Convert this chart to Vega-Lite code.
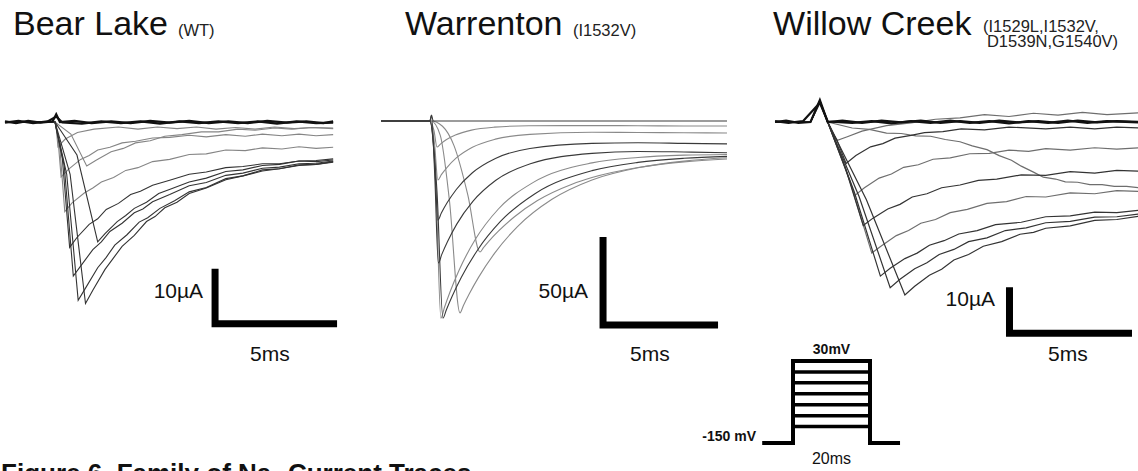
{
"$schema": "https://vega.github.io/schema/vega-lite/v6.json",
"width": 1138, "height": 471,
"autosize": {"type": "none"},
"padding": 0,
"background": "white",
"config": {"view": {"stroke": null}, "axis": {"disable": true}, "legend": {"disable": true}, "font": "Liberation Sans"},
"datasets": {
"bear": [
{"s":"B0a","t":-2.05,"i":0.1},{"s":"B0a","t":-1.6,"i":-0.2},{"s":"B0a","t":-1.1,"i":0.2},{"s":"B0a","t":-0.6,"i":-0.1},{"s":"B0a","t":-0.1,"i":0.1},{"s":"B0a","t":0.05,"i":1.4},{"s":"B0a","t":0.2,"i":0},{"s":"B0a","t":0.8,"i":0.2},{"s":"B0a","t":1.5,"i":-0.2},{"s":"B0a","t":2.3,"i":0.1},{"s":"B0a","t":3.1,"i":-0.2},{"s":"B0a","t":3.9,"i":0.2},{"s":"B0a","t":4.7,"i":-0.1},{"s":"B0a","t":5.5,"i":0.2},{"s":"B0a","t":6.3,"i":-0.2},{"s":"B0a","t":7.1,"i":0.1},{"s":"B0a","t":7.9,"i":-0.2},{"s":"B0a","t":8.7,"i":0.2},{"s":"B0a","t":9.5,"i":-0.1},{"s":"B0a","t":10.3,"i":0.1},{"s":"B0a","t":11.0,"i":-0.2},{"s":"B0a","t":11.4,"i":0.1},
{"s":"B0b","t":-2.05,"i":-0.1},{"s":"B0b","t":-1.5,"i":0.2},{"s":"B0b","t":-0.9,"i":-0.2},{"s":"B0b","t":-0.3,"i":0.1},{"s":"B0b","t":0.05,"i":1.0},{"s":"B0b","t":0.3,"i":-0.1},{"s":"B0b","t":1.1,"i":-0.3},{"s":"B0b","t":1.9,"i":0.1},{"s":"B0b","t":2.7,"i":-0.2},{"s":"B0b","t":3.5,"i":0.1},{"s":"B0b","t":4.3,"i":-0.3},{"s":"B0b","t":5.1,"i":0.1},{"s":"B0b","t":5.9,"i":-0.2},{"s":"B0b","t":6.7,"i":0.1},{"s":"B0b","t":7.5,"i":-0.2},{"s":"B0b","t":8.3,"i":0.1},{"s":"B0b","t":9.1,"i":-0.3},{"s":"B0b","t":9.9,"i":0.1},{"s":"B0b","t":10.7,"i":-0.2},{"s":"B0b","t":11.4,"i":-0.1},
{"s":"B1","t":-2.05,"i":0},{"s":"B1","t":-1.2,"i":0.1},{"s":"B1","t":-0.4,"i":-0.1},{"s":"B1","t":0,"i":0},{"s":"B1","t":0.06,"i":-1.4},{"s":"B1","t":0.12,"i":-4.5},{"s":"B1","t":0.42,"i":-3.1},{"s":"B1","t":0.92,"i":-1.9},{"s":"B1","t":1.6,"i":-1.3},{"s":"B1","t":2.6,"i":-0.9},{"s":"B1","t":3.4,"i":-1.3},{"s":"B1","t":4.2,"i":-0.9},{"s":"B1","t":5.0,"i":-1.2},{"s":"B1","t":5.8,"i":-0.9},{"s":"B1","t":6.6,"i":-1.3},{"s":"B1","t":7.4,"i":-1.0},{"s":"B1","t":8.2,"i":-1.3},{"s":"B1","t":9.0,"i":-0.9},{"s":"B1","t":9.8,"i":-1.2},{"s":"B1","t":10.6,"i":-1.0},{"s":"B1","t":11.4,"i":-1.1},
{"s":"B2","t":-2.05,"i":0},{"s":"B2","t":-1.2,"i":-0.1},{"s":"B2","t":-0.4,"i":0.1},{"s":"B2","t":0,"i":0},{"s":"B2","t":0.12,"i":-3},{"s":"B2","t":0.25,"i":-10},{"s":"B2","t":0.55,"i":-8.6},{"s":"B2","t":1.05,"i":-6.8},{"s":"B2","t":1.4,"i":-6.1},{"s":"B2","t":1.75,"i":-5.1},{"s":"B2","t":2.25,"i":-4.6},{"s":"B2","t":2.75,"i":-3.8},{"s":"B2","t":3.3,"i":-3.5},{"s":"B2","t":4.0,"i":-2.9},{"s":"B2","t":4.7,"i":-2.8},{"s":"B2","t":5.5,"i":-2.4},{"s":"B2","t":6.2,"i":-2.7},{"s":"B2","t":7.0,"i":-2.3},{"s":"B2","t":7.8,"i":-2.6},{"s":"B2","t":8.5,"i":-2.2},{"s":"B2","t":9.3,"i":-2.5},{"s":"B2","t":10.0,"i":-2.2},{"s":"B2","t":10.7,"i":-2.5},{"s":"B2","t":11.4,"i":-2.3},
{"s":"B3","t":-2.05,"i":0},{"s":"B3","t":-1.2,"i":0.1},{"s":"B3","t":-0.4,"i":-0.1},{"s":"B3","t":0,"i":0},{"s":"B3","t":0.2,"i":-4.8},{"s":"B3","t":0.4,"i":-16.3},{"s":"B3","t":0.7,"i":-14.7},{"s":"B3","t":1.2,"i":-12.9},{"s":"B3","t":1.55,"i":-12.0},{"s":"B3","t":1.9,"i":-10.9},{"s":"B3","t":2.4,"i":-10.1},{"s":"B3","t":2.9,"i":-8.8},{"s":"B3","t":3.4,"i":-8.3},{"s":"B3","t":4.0,"i":-7.2},{"s":"B3","t":4.7,"i":-6.8},{"s":"B3","t":5.5,"i":-5.9},{"s":"B3","t":6.2,"i":-5.8},{"s":"B3","t":7.0,"i":-5.1},{"s":"B3","t":7.8,"i":-5.2},{"s":"B3","t":8.5,"i":-4.7},{"s":"B3","t":9.3,"i":-4.9},{"s":"B3","t":10.0,"i":-4.5},{"s":"B3","t":10.7,"i":-4.8},{"s":"B3","t":11.4,"i":-4.6},
{"s":"B4","t":-2.05,"i":0},{"s":"B4","t":-1.2,"i":-0.1},{"s":"B4","t":-0.4,"i":0.1},{"s":"B4","t":0,"i":0},{"s":"B4","t":0.3,"i":-6.6},{"s":"B4","t":0.6,"i":-22.8},{"s":"B4","t":0.9,"i":-21.0},{"s":"B4","t":1.4,"i":-18.6},{"s":"B4","t":1.75,"i":-17.6},{"s":"B4","t":2.1,"i":-15.9},{"s":"B4","t":2.6,"i":-14.8},{"s":"B4","t":3.1,"i":-13.2},{"s":"B4","t":3.5,"i":-12.6},{"s":"B4","t":4.0,"i":-11.5},{"s":"B4","t":4.7,"i":-10.6},{"s":"B4","t":5.5,"i":-9.5},{"s":"B4","t":6.2,"i":-9.1},{"s":"B4","t":7.0,"i":-8.3},{"s":"B4","t":7.7,"i":-8.1},{"s":"B4","t":8.5,"i":-7.6},{"s":"B4","t":9.2,"i":-7.6},{"s":"B4","t":10.0,"i":-7.1},{"s":"B4","t":10.7,"i":-7.2},{"s":"B4","t":11.4,"i":-6.9},
{"s":"B5","t":-2.05,"i":0},{"s":"B5","t":-1.2,"i":0.1},{"s":"B5","t":-0.4,"i":-0.1},{"s":"B5","t":0,"i":0},{"s":"B5","t":0.38,"i":-8},{"s":"B5","t":0.75,"i":-28},{"s":"B5","t":1.05,"i":-26.2},{"s":"B5","t":1.55,"i":-23.2},{"s":"B5","t":1.9,"i":-21.8},{"s":"B5","t":2.25,"i":-19.9},{"s":"B5","t":2.75,"i":-18.4},{"s":"B5","t":3.25,"i":-16.5},{"s":"B5","t":3.6,"i":-15.8},{"s":"B5","t":4.0,"i":-14.5},{"s":"B5","t":4.7,"i":-13.2},{"s":"B5","t":5.5,"i":-11.6},{"s":"B5","t":6.2,"i":-11.0},{"s":"B5","t":7.0,"i":-9.7},{"s":"B5","t":7.7,"i":-9.3},{"s":"B5","t":8.5,"i":-8.4},{"s":"B5","t":9.2,"i":-8.2},{"s":"B5","t":10.0,"i":-7.6},{"s":"B5","t":10.7,"i":-7.5},{"s":"B5","t":11.4,"i":-7.1},
{"s":"B6","t":-2.05,"i":0},{"s":"B6","t":-1.2,"i":-0.1},{"s":"B6","t":-0.4,"i":0.1},{"s":"B6","t":0,"i":0},{"s":"B6","t":0.48,"i":-9.5},{"s":"B6","t":0.95,"i":-32.4},{"s":"B6","t":1.25,"i":-30.2},{"s":"B6","t":1.75,"i":-26.5},{"s":"B6","t":2.1,"i":-24.6},{"s":"B6","t":2.45,"i":-22.4},{"s":"B6","t":2.95,"i":-20.5},{"s":"B6","t":3.45,"i":-18.2},{"s":"B6","t":3.8,"i":-17.4},{"s":"B6","t":4.3,"i":-15.7},{"s":"B6","t":4.9,"i":-14.3},{"s":"B6","t":5.5,"i":-12.7},{"s":"B6","t":6.2,"i":-11.9},{"s":"B6","t":7.0,"i":-10.3},{"s":"B6","t":7.7,"i":-9.8},{"s":"B6","t":8.5,"i":-8.7},{"s":"B6","t":9.2,"i":-8.5},{"s":"B6","t":10.0,"i":-7.8},{"s":"B6","t":10.7,"i":-7.7},{"s":"B6","t":11.4,"i":-7.2},
{"s":"B7","t":-2.05,"i":0},{"s":"B7","t":-1.2,"i":0.1},{"s":"B7","t":-0.4,"i":-0.1},{"s":"B7","t":0,"i":0},{"s":"B7","t":0.62,"i":-9.5},{"s":"B7","t":1.25,"i":-33.0},{"s":"B7","t":1.55,"i":-30.6},{"s":"B7","t":2.05,"i":-26.8},{"s":"B7","t":2.4,"i":-24.7},{"s":"B7","t":2.75,"i":-22.6},{"s":"B7","t":3.25,"i":-20.6},{"s":"B7","t":3.75,"i":-18.1},{"s":"B7","t":4.1,"i":-17.2},{"s":"B7","t":4.5,"i":-15.6},{"s":"B7","t":5.0,"i":-14.6},{"s":"B7","t":5.5,"i":-13.0},{"s":"B7","t":6.2,"i":-12.0},{"s":"B7","t":7.0,"i":-10.5},{"s":"B7","t":7.7,"i":-9.8},{"s":"B7","t":8.5,"i":-8.9},{"s":"B7","t":9.2,"i":-8.5},{"s":"B7","t":10.0,"i":-7.9},{"s":"B7","t":10.7,"i":-7.7},{"s":"B7","t":11.4,"i":-7.3},
{"s":"B8","t":-2.05,"i":0},{"s":"B8","t":-1.2,"i":-0.1},{"s":"B8","t":-0.4,"i":0.1},{"s":"B8","t":0,"i":0},{"s":"B8","t":0.9,"i":-6},{"s":"B8","t":1.75,"i":-21.8},{"s":"B8","t":2.05,"i":-20.3},{"s":"B8","t":2.55,"i":-18.1},{"s":"B8","t":2.9,"i":-17.0},{"s":"B8","t":3.25,"i":-15.7},{"s":"B8","t":3.75,"i":-14.6},{"s":"B8","t":4.25,"i":-13.0},{"s":"B8","t":4.8,"i":-12.1},{"s":"B8","t":5.5,"i":-10.9},{"s":"B8","t":6.2,"i":-10.2},{"s":"B8","t":7.0,"i":-9.0},{"s":"B8","t":7.7,"i":-8.7},{"s":"B8","t":8.5,"i":-7.9},{"s":"B8","t":9.2,"i":-7.7},{"s":"B8","t":10.0,"i":-7.1},{"s":"B8","t":10.7,"i":-7.0},{"s":"B8","t":11.4,"i":-6.7},
{"s":"B9","t":-2.05,"i":0},{"s":"B9","t":-1.2,"i":0.1},{"s":"B9","t":-0.4,"i":-0.1},{"s":"B9","t":0,"i":0},{"s":"B9","t":0.65,"i":-2.2},{"s":"B9","t":1.3,"i":-8},{"s":"B9","t":1.7,"i":-6.9},{"s":"B9","t":2.3,"i":-5.4},{"s":"B9","t":2.8,"i":-4.8},{"s":"B9","t":3.3,"i":-3.8},{"s":"B9","t":3.9,"i":-3.4},{"s":"B9","t":4.5,"i":-2.6},{"s":"B9","t":5.2,"i":-2.3},{"s":"B9","t":6.0,"i":-1.8},{"s":"B9","t":6.7,"i":-1.8},{"s":"B9","t":7.5,"i":-1.3},{"s":"B9","t":8.2,"i":-1.5},{"s":"B9","t":9.0,"i":-1.1},{"s":"B9","t":9.7,"i":-1.3},{"s":"B9","t":10.5,"i":-1.0},{"s":"B9","t":11.4,"i":-1.2}
],
"warr": [
{"s":"W0","t":-2.17,"i":0},{"s":"W0","t":-1.0,"i":0},{"s":"W0","t":-0.05,"i":0},{"s":"W0","t":0.02,"i":3.4},{"s":"W0","t":0.1,"i":0},{"s":"W0","t":1,"i":0},{"s":"W0","t":3,"i":0},{"s":"W0","t":6,"i":0},{"s":"W0","t":9,"i":0},{"s":"W0","t":12.87,"i":0},
{"s":"W1","t":-2.17,"i":0},{"s":"W1","t":-0.05,"i":0},{"s":"W1","t":0.13,"i":-5.5},{"s":"W1","t":0.26,"i":-14.8},{"s":"W1","t":0.41,"i":-13.1},{"s":"W1","t":0.66,"i":-10.7},{"s":"W1","t":1.06,"i":-8.0},{"s":"W1","t":1.76,"i":-5.2},{"s":"W1","t":2.76,"i":-3.5},{"s":"W1","t":4.26,"i":-2.7},{"s":"W1","t":7,"i":-2.6},{"s":"W1","t":9,"i":-2.7},{"s":"W1","t":11,"i":-2.8},{"s":"W1","t":12.87,"i":-2.8},
{"s":"W2","t":-2.17,"i":0},{"s":"W2","t":-0.05,"i":0},{"s":"W2","t":0.15,"i":-12.5},{"s":"W2","t":0.3,"i":-33.5},{"s":"W2","t":0.45,"i":-30.5},{"s":"W2","t":0.7,"i":-26.3},{"s":"W2","t":1.1,"i":-21.0},{"s":"W2","t":1.8,"i":-14.9},{"s":"W2","t":2.8,"i":-10.3},{"s":"W2","t":4.3,"i":-7.6},{"s":"W2","t":7,"i":-6.4},{"s":"W2","t":9,"i":-6.5},{"s":"W2","t":11,"i":-6.7},{"s":"W2","t":12.87,"i":-6.8},
{"s":"W3","t":-2.17,"i":0},{"s":"W3","t":-0.05,"i":0},{"s":"W3","t":0.15,"i":-21},{"s":"W3","t":0.3,"i":-56.3},{"s":"W3","t":0.45,"i":-52.3},{"s":"W3","t":0.7,"i":-46.5},{"s":"W3","t":1.1,"i":-38.9},{"s":"W3","t":1.8,"i":-29.4},{"s":"W3","t":2.8,"i":-21.3},{"s":"W3","t":4.3,"i":-15.6},{"s":"W3","t":7,"i":-12.7},{"s":"W3","t":9,"i":-12.4},{"s":"W3","t":11,"i":-12.7},{"s":"W3","t":12.87,"i":-13.0},
{"s":"W4","t":-2.17,"i":0},{"s":"W4","t":-0.05,"i":0},{"s":"W4","t":0.02,"i":3},{"s":"W4","t":0.16,"i":-30},{"s":"W4","t":0.32,"i":-80.7},{"s":"W4","t":0.47,"i":-75.8},{"s":"W4","t":0.72,"i":-68.5},{"s":"W4","t":1.12,"i":-58.6},{"s":"W4","t":1.82,"i":-45.7},{"s":"W4","t":2.82,"i":-33.7},{"s":"W4","t":4.32,"i":-24.3},{"s":"W4","t":7,"i":-18.4},{"s":"W4","t":9,"i":-17.3},{"s":"W4","t":11,"i":-17.6},{"s":"W4","t":12.87,"i":-18.0},
{"s":"W5","t":-2.17,"i":0},{"s":"W5","t":-0.05,"i":0},{"s":"W5","t":0.22,"i":-40},{"s":"W5","t":0.43,"i":-112},{"s":"W5","t":0.58,"i":-106.1},{"s":"W5","t":0.83,"i":-97.0},{"s":"W5","t":1.23,"i":-84.5},{"s":"W5","t":1.93,"i":-67.2},{"s":"W5","t":2.93,"i":-50.0},{"s":"W5","t":4.43,"i":-35.0},{"s":"W5","t":7,"i":-23.8},{"s":"W5","t":9,"i":-20.7},{"s":"W5","t":11,"i":-19.4},{"s":"W5","t":12.87,"i":-19.0},
{"s":"W6","t":-2.17,"i":0},{"s":"W6","t":-0.05,"i":0},{"s":"W6","t":0.26,"i":-40},{"s":"W6","t":0.52,"i":-112},{"s":"W6","t":0.67,"i":-107.2},{"s":"W6","t":0.92,"i":-99.6},{"s":"W6","t":1.32,"i":-88.8},{"s":"W6","t":2.02,"i":-73.4},{"s":"W6","t":3.02,"i":-57.1},{"s":"W6","t":4.52,"i":-41.3},{"s":"W6","t":7,"i":-28.2},{"s":"W6","t":9,"i":-23.5},{"s":"W6","t":11,"i":-21.2},{"s":"W6","t":12.87,"i":-20.1},
{"s":"W7","t":-2.17,"i":0},{"s":"W7","t":0,"i":0},{"s":"W7","t":0.4,"i":-8},{"s":"W7","t":0.8,"i":-45},{"s":"W7","t":1.26,"i":-109},{"s":"W7","t":1.41,"i":-104.8},{"s":"W7","t":1.66,"i":-98.3},{"s":"W7","t":2.06,"i":-89.0},{"s":"W7","t":2.76,"i":-75.2},{"s":"W7","t":3.76,"i":-60.0},{"s":"W7","t":5.26,"i":-44.5},{"s":"W7","t":7,"i":-33.5},{"s":"W7","t":9,"i":-26.6},{"s":"W7","t":11,"i":-22.8},{"s":"W7","t":12.87,"i":-20.9},
{"s":"W8","t":-2.17,"i":0},{"s":"W8","t":0,"i":0},{"s":"W8","t":0.5,"i":-3},{"s":"W8","t":1.0,"i":-14},{"s":"W8","t":1.6,"i":-42},{"s":"W8","t":2.13,"i":-74.4},{"s":"W8","t":2.28,"i":-72},{"s":"W8","t":2.53,"i":-68.1},{"s":"W8","t":2.93,"i":-62.6},{"s":"W8","t":3.63,"i":-54.4},{"s":"W8","t":4.63,"i":-45.2},{"s":"W8","t":6.13,"i":-35.9},{"s":"W8","t":7,"i":-32.1},{"s":"W8","t":9,"i":-26.4},{"s":"W8","t":11,"i":-23.2},{"s":"W8","t":12.87,"i":-21.6}
],
"wc": [
{"s":"C0a","t":-1.55,"i":0},{"s":"C0a","t":-1.1,"i":0.3},{"s":"C0a","t":-0.6,"i":-0.2},{"s":"C0a","t":-0.1,"i":0},{"s":"C0a","t":0.28,"i":4.8},{"s":"C0a","t":0.6,"i":0},{"s":"C0a","t":1.2,"i":0.3},{"s":"C0a","t":2.0,"i":-0.2},{"s":"C0a","t":2.8,"i":0.3},{"s":"C0a","t":3.6,"i":-0.1},{"s":"C0a","t":4.4,"i":0.3},{"s":"C0a","t":5.2,"i":-0.2},{"s":"C0a","t":6.0,"i":0.2},{"s":"C0a","t":6.8,"i":-0.2},{"s":"C0a","t":7.6,"i":0.3},{"s":"C0a","t":8.4,"i":-0.1},{"s":"C0a","t":9.2,"i":0.2},{"s":"C0a","t":10.0,"i":-0.2},{"s":"C0a","t":10.8,"i":0.3},{"s":"C0a","t":11.6,"i":-0.1},{"s":"C0a","t":12.4,"i":0.2},{"s":"C0a","t":13.3,"i":0},
{"s":"C0b","t":-1.55,"i":0.2},{"s":"C0b","t":-1.0,"i":-0.2},{"s":"C0b","t":-0.4,"i":0.2},{"s":"C0b","t":0.28,"i":4.2},{"s":"C0b","t":0.6,"i":0.1},{"s":"C0b","t":1.6,"i":-0.2},{"s":"C0b","t":2.4,"i":0.2},{"s":"C0b","t":3.2,"i":-0.3},{"s":"C0b","t":4.0,"i":0.2},{"s":"C0b","t":4.8,"i":-0.2},{"s":"C0b","t":5.6,"i":0.3},{"s":"C0b","t":6.4,"i":-0.2},{"s":"C0b","t":7.2,"i":0.2},{"s":"C0b","t":8.0,"i":-0.3},{"s":"C0b","t":8.8,"i":0.2},{"s":"C0b","t":9.6,"i":-0.2},{"s":"C0b","t":10.4,"i":0.3},{"s":"C0b","t":11.2,"i":-0.2},{"s":"C0b","t":12.0,"i":0.2},{"s":"C0b","t":13.3,"i":-0.1},
{"s":"C1","t":-1.55,"i":0},{"s":"C1","t":-0.8,"i":0.1},{"s":"C1","t":-0.1,"i":0},{"s":"C1","t":0.28,"i":4.0},{"s":"C1","t":0.6,"i":0},{"s":"C1","t":0.8,"i":-2.5},{"s":"C1","t":1.0,"i":-4},{"s":"C1","t":1.4,"i":-3.2},{"s":"C1","t":2.0,"i":-2.0},{"s":"C1","t":3.0,"i":-0.8},{"s":"C1","t":4.0,"i":-0.2},{"s":"C1","t":5.0,"i":0.6},{"s":"C1","t":6.0,"i":0.9},{"s":"C1","t":7.0,"i":1.6},{"s":"C1","t":8.0,"i":1.2},{"s":"C1","t":9.0,"i":1.9},{"s":"C1","t":10.0,"i":1.5},{"s":"C1","t":11.0,"i":2.1},{"s":"C1","t":12.0,"i":1.6},{"s":"C1","t":13.3,"i":2.0},
{"s":"C2","t":-1.55,"i":0},{"s":"C2","t":-0.8,"i":-0.1},{"s":"C2","t":-0.1,"i":0},{"s":"C2","t":0.28,"i":4.3},{"s":"C2","t":0.6,"i":0},{"s":"C2","t":0.98,"i":-4.0},{"s":"C2","t":1.35,"i":-9},{"s":"C2","t":1.75,"i":-7.3},{"s":"C2","t":2.35,"i":-5.4},{"s":"C2","t":2.85,"i":-4.7},{"s":"C2","t":3.35,"i":-3.5},{"s":"C2","t":4.0,"i":-2.9},{"s":"C2","t":4.55,"i":-2.3},{"s":"C2","t":5.3,"i":-2.1},{"s":"C2","t":6.05,"i":-1.5},{"s":"C2","t":7.0,"i":-1.7},{"s":"C2","t":8.0,"i":-1.1},{"s":"C2","t":9.5,"i":-1.5},{"s":"C2","t":10.5,"i":-1.1},{"s":"C2","t":11.5,"i":-1.5},{"s":"C2","t":12.4,"i":-1.1},{"s":"C2","t":13.3,"i":-1.3},
{"s":"C3","t":-1.55,"i":0},{"s":"C3","t":-0.8,"i":0.1},{"s":"C3","t":-0.1,"i":0},{"s":"C3","t":0.28,"i":4.5},{"s":"C3","t":0.6,"i":0},{"s":"C3","t":1.15,"i":-7.2},{"s":"C3","t":1.7,"i":-16},{"s":"C3","t":2.1,"i":-14.3},{"s":"C3","t":2.7,"i":-12.2},{"s":"C3","t":3.2,"i":-11.3},{"s":"C3","t":3.7,"i":-9.85},{"s":"C3","t":4.3,"i":-9.3},{"s":"C3","t":4.9,"i":-8.1},{"s":"C3","t":5.6,"i":-7.8},{"s":"C3","t":6.4,"i":-6.9},{"s":"C3","t":7.2,"i":-6.8},{"s":"C3","t":8.0,"i":-6.1},{"s":"C3","t":8.8,"i":-6.4},{"s":"C3","t":9.5,"i":-5.8},{"s":"C3","t":10.5,"i":-6.1},{"s":"C3","t":11.5,"i":-5.6},{"s":"C3","t":12.4,"i":-5.9},{"s":"C3","t":13.3,"i":-5.6},
{"s":"C4","t":-1.55,"i":0},{"s":"C4","t":-0.8,"i":-0.1},{"s":"C4","t":-0.1,"i":0},{"s":"C4","t":0.28,"i":4.6},{"s":"C4","t":0.6,"i":0},{"s":"C4","t":1.33,"i":-10.1},{"s":"C4","t":2.05,"i":-22.5},{"s":"C4","t":2.45,"i":-20.9},{"s":"C4","t":3.05,"i":-18.9},{"s":"C4","t":3.55,"i":-17.9},{"s":"C4","t":4.05,"i":-16.3},{"s":"C4","t":4.65,"i":-15.6},{"s":"C4","t":5.25,"i":-14.3},{"s":"C4","t":6.0,"i":-13.7},{"s":"C4","t":6.75,"i":-12.7},{"s":"C4","t":7.5,"i":-12.4},{"s":"C4","t":8.5,"i":-11.5},{"s":"C4","t":9.5,"i":-11.6},{"s":"C4","t":10.5,"i":-10.8},{"s":"C4","t":11.5,"i":-11.1},{"s":"C4","t":12.4,"i":-10.5},{"s":"C4","t":13.3,"i":-10.7},
{"s":"C5","t":-1.55,"i":0},{"s":"C5","t":-0.8,"i":0.1},{"s":"C5","t":-0.1,"i":0},{"s":"C5","t":0.28,"i":4.4},{"s":"C5","t":0.6,"i":0},{"s":"C5","t":1.5,"i":-12.8},{"s":"C5","t":2.4,"i":-28.5},{"s":"C5","t":2.8,"i":-26.9},{"s":"C5","t":3.4,"i":-24.7},{"s":"C5","t":3.9,"i":-23.6},{"s":"C5","t":4.4,"i":-22.0},{"s":"C5","t":5.0,"i":-21.2},{"s":"C5","t":5.6,"i":-19.7},{"s":"C5","t":6.3,"i":-19.0},{"s":"C5","t":7.1,"i":-17.7},{"s":"C5","t":7.9,"i":-17.3},{"s":"C5","t":8.7,"i":-16.2},{"s":"C5","t":9.5,"i":-16.3},{"s":"C5","t":10.5,"i":-15.4},{"s":"C5","t":11.5,"i":-15.6},{"s":"C5","t":12.4,"i":-14.9},{"s":"C5","t":13.3,"i":-15.1},
{"s":"C6","t":-1.55,"i":0},{"s":"C6","t":-0.8,"i":-0.1},{"s":"C6","t":-0.1,"i":0},{"s":"C6","t":0.28,"i":4.7},{"s":"C6","t":0.6,"i":0},{"s":"C6","t":1.68,"i":-15.1},{"s":"C6","t":2.75,"i":-33.5},{"s":"C6","t":3.15,"i":-31.8},{"s":"C6","t":3.75,"i":-29.7},{"s":"C6","t":4.25,"i":-28.5},{"s":"C6","t":4.75,"i":-26.8},{"s":"C6","t":5.35,"i":-25.8},{"s":"C6","t":5.95,"i":-24.35},{"s":"C6","t":6.7,"i":-23.6},{"s":"C6","t":7.45,"i":-22.3},{"s":"C6","t":8.5,"i":-21.8},{"s":"C6","t":9.5,"i":-20.6},{"s":"C6","t":10.5,"i":-20.4},{"s":"C6","t":11.5,"i":-19.6},{"s":"C6","t":12.4,"i":-19.7},{"s":"C6","t":13.3,"i":-19.2},
{"s":"C7","t":-1.55,"i":0},{"s":"C7","t":-0.8,"i":0.1},{"s":"C7","t":-0.1,"i":0},{"s":"C7","t":0.28,"i":4.3},{"s":"C7","t":0.6,"i":0},{"s":"C7","t":1.88,"i":-16.2},{"s":"C7","t":3.15,"i":-36},{"s":"C7","t":3.55,"i":-34.2},{"s":"C7","t":4.15,"i":-31.9},{"s":"C7","t":4.65,"i":-30.6},{"s":"C7","t":5.15,"i":-28.8},{"s":"C7","t":5.75,"i":-27.7},{"s":"C7","t":6.35,"i":-26.0},{"s":"C7","t":7.1,"i":-25.2},{"s":"C7","t":7.85,"i":-23.6},{"s":"C7","t":8.7,"i":-23.0},{"s":"C7","t":9.5,"i":-21.9},{"s":"C7","t":10.5,"i":-21.6},{"s":"C7","t":11.5,"i":-20.7},{"s":"C7","t":12.4,"i":-20.6},{"s":"C7","t":13.3,"i":-20.0},
{"s":"C8","t":-1.55,"i":0},{"s":"C8","t":-0.8,"i":-0.1},{"s":"C8","t":-0.1,"i":0},{"s":"C8","t":0.28,"i":4.6},{"s":"C8","t":0.6,"i":0},{"s":"C8","t":2.18,"i":-16.9},{"s":"C8","t":3.75,"i":-37.6},{"s":"C8","t":4.15,"i":-35.7},{"s":"C8","t":4.75,"i":-33.3},{"s":"C8","t":5.25,"i":-32.0},{"s":"C8","t":5.75,"i":-30.0},{"s":"C8","t":6.35,"i":-28.8},{"s":"C8","t":6.95,"i":-27.0},{"s":"C8","t":7.7,"i":-26.0},{"s":"C8","t":8.45,"i":-24.4},{"s":"C8","t":9.0,"i":-24.0},{"s":"C8","t":9.5,"i":-23.1},{"s":"C8","t":10.5,"i":-22.6},{"s":"C8","t":11.5,"i":-21.4},{"s":"C8","t":12.4,"i":-21.2},{"s":"C8","t":13.3,"i":-20.5},
{"s":"C9","t":-1.55,"i":0},{"s":"C9","t":-0.8,"i":0.1},{"s":"C9","t":-0.1,"i":0},{"s":"C9","t":0.28,"i":4.6},{"s":"C9","t":0.6,"i":0},{"s":"C9","t":1.6,"i":-1.3},{"s":"C9","t":2.3,"i":-1.6},{"s":"C9","t":3.0,"i":-2.4},{"s":"C9","t":3.6,"i":-2.5},{"s":"C9","t":4.2,"i":-3.0},{"s":"C9","t":4.8,"i":-3.1},{"s":"C9","t":5.4,"i":-3.8},{"s":"C9","t":6.0,"i":-4.3},{"s":"C9","t":6.5,"i":-5.2},{"s":"C9","t":7.1,"i":-6.0},{"s":"C9","t":7.6,"i":-7.3},{"s":"C9","t":8.1,"i":-8.3},{"s":"C9","t":8.5,"i":-9.6},{"s":"C9","t":9.0,"i":-10.9},{"s":"C9","t":9.4,"i":-12},{"s":"C9","t":9.9,"i":-12.4},{"s":"C9","t":10.3,"i":-13},{"s":"C9","t":10.8,"i":-13.1},{"s":"C9","t":11.3,"i":-13.6},{"s":"C9","t":11.8,"i":-13.6},{"s":"C9","t":12.3,"i":-14.0},{"s":"C9","t":12.8,"i":-14.0},{"s":"C9","t":13.3,"i":-14.3}
],
"bar1": [{"k":1,"t":6.56,"i":-26.7},{"k":2,"t":6.56,"i":-36.7},{"k":3,"t":11.56,"i":-36.7}],
"bar2": [{"k":1,"t":7.48,"i":-65.9},{"k":2,"t":7.48,"i":-115.9},{"k":3,"t":12.48,"i":-115.9}],
"bar3": [{"k":1,"t":8.02,"i":-35.9},{"k":2,"t":8.02,"i":-45.9},{"k":3,"t":13.02,"i":-45.9}],
"prot": [
{"g":"o","k":1,"t":-8,"v":-150},{"g":"o","k":2,"t":0,"v":-150},{"g":"o","k":3,"t":0,"v":30},{"g":"o","k":4,"t":20,"v":30},{"g":"o","k":5,"t":20,"v":-150},{"g":"o","k":6,"t":27.8,"v":-150},
{"g":"s1","k":1,"t":0,"v":6},{"g":"s1","k":2,"t":20,"v":6},
{"g":"s2","k":1,"t":0,"v":-18},{"g":"s2","k":2,"t":20,"v":-18},
{"g":"s3","k":1,"t":0,"v":-42},{"g":"s3","k":2,"t":20,"v":-42},
{"g":"s4","k":1,"t":0,"v":-66},{"g":"s4","k":2,"t":20,"v":-66},
{"g":"s5","k":1,"t":0,"v":-90},{"g":"s5","k":2,"t":20,"v":-90},
{"g":"s6","k":1,"t":0,"v":-114},{"g":"s6","k":2,"t":20,"v":-114}
]
},
"resolve": {"scale": {"x": "independent", "y": "independent"}},
"layer": [
{
"encoding": {
"x": {"field": "t", "type": "quantitative", "scale": {"domain": [0, 10], "range": [55, 299], "nice": false, "zero": false}},
"y": {"field": "i", "type": "quantitative", "scale": {"domain": [-10, 0], "range": [177, 122], "nice": false, "zero": false}}
},
"layer": [
{"data": {"name": "bear"}, "transform": [{"filter": {"field": "s", "oneOf": ["B1","B2","B3","B9"]}}], "mark": {"type": "line", "stroke": "#858585", "strokeWidth": 1.1}, "encoding": {"detail": {"field": "s"}}},
{"data": {"name": "bear"}, "transform": [{"filter": {"field": "s", "oneOf": ["B4","B5","B6","B7","B8"]}}], "mark": {"type": "line", "stroke": "#333333", "strokeWidth": 1.1}, "encoding": {"detail": {"field": "s"}}},
{"data": {"name": "bear"}, "transform": [{"filter": {"field": "s", "oneOf": ["B0a","B0b"]}}], "mark": {"type": "line", "stroke": "#111111", "strokeWidth": 2.2}, "encoding": {"detail": {"field": "s"}}},
{"data": {"name": "bar1"}, "mark": {"type": "line", "stroke": "black", "strokeWidth": 7, "strokeJoin": "miter", "strokeCap": "butt"}, "encoding": {"order": {"field": "k"}}},
{"data": {"values": [{"t": -1.72, "i": 15.8}]}, "mark": {"type": "text", "text": "Bear Lake", "align": "left", "baseline": "alphabetic", "fontSize": 34, "fill": "#111"}},
{"data": {"values": [{"t": 5.04, "i": 15.6}]}, "mark": {"type": "text", "text": "(WT)", "align": "left", "baseline": "alphabetic", "fontSize": 16.5, "fill": "#222"}},
{"data": {"values": [{"t": 6.07, "i": -30.9}]}, "mark": {"type": "text", "text": "10µA", "align": "right", "baseline": "middle", "fontSize": 21, "fill": "#111"}},
{"data": {"values": [{"t": 8.81, "i": -42.4}]}, "mark": {"type": "text", "text": "5ms", "align": "center", "baseline": "middle", "fontSize": 21, "fill": "#111"}},
{"data": {"values": [{"t": -2.21, "i": -65.4}]}, "mark": {"type": "text", "text": "Figure 6. Family of Naᵥ Current Traces", "align": "left", "baseline": "alphabetic", "fontSize": 26, "fontWeight": "bold", "fill": "#111"}}
]
},
{
"encoding": {
"x": {"field": "t", "type": "quantitative", "scale": {"domain": [0, 10], "range": [431, 661], "nice": false, "zero": false}},
"y": {"field": "i", "type": "quantitative", "scale": {"domain": [-50, 0], "range": [209, 121], "nice": false, "zero": false}}
},
"layer": [
{"data": {"name": "warr"}, "transform": [{"filter": {"field": "s", "oneOf": ["W1","W2","W5","W7","W8"]}}], "mark": {"type": "line", "stroke": "#8a8a8a", "strokeWidth": 1.1, "interpolate": "monotone"}, "encoding": {"detail": {"field": "s"}}},
{"data": {"name": "warr"}, "transform": [{"filter": {"field": "s", "oneOf": ["W0","W3","W4","W6"]}}], "mark": {"type": "line", "stroke": "#3a3a3a", "strokeWidth": 1.1, "interpolate": "monotone"}, "encoding": {"detail": {"field": "s"}}},
{"data": {"name": "bar2"}, "mark": {"type": "line", "stroke": "black", "strokeWidth": 7, "strokeJoin": "miter", "strokeCap": "butt"}, "encoding": {"order": {"field": "k"}}},
{"data": {"values": [{"t": -1.13, "i": 48.9}]}, "mark": {"type": "text", "text": "Warrenton", "align": "left", "baseline": "alphabetic", "fontSize": 34, "fill": "#111"}},
{"data": {"values": [{"t": 6.17, "i": 48.3}]}, "mark": {"type": "text", "text": "(I1532V)", "align": "left", "baseline": "alphabetic", "fontSize": 16.5, "fill": "#222"}},
{"data": {"values": [{"t": 6.83, "i": -97.2}]}, "mark": {"type": "text", "text": "50µA", "align": "right", "baseline": "middle", "fontSize": 21, "fill": "#111"}},
{"data": {"values": [{"t": 9.52, "i": -133}]}, "mark": {"type": "text", "text": "5ms", "align": "center", "baseline": "middle", "fontSize": 21, "fill": "#111"}}
]
},
{
"encoding": {
"x": {"field": "t", "type": "quantitative", "scale": {"domain": [0, 10], "range": [813, 1058], "nice": false, "zero": false}},
"y": {"field": "i", "type": "quantitative", "scale": {"domain": [-10, 0], "range": [168, 122], "nice": false, "zero": false}}
},
"layer": [
{"data": {"name": "wc"}, "transform": [{"filter": {"field": "s", "oneOf": ["C1","C3","C5","C9"]}}], "mark": {"type": "line", "stroke": "#6e6e6e", "strokeWidth": 1.2}, "encoding": {"detail": {"field": "s"}}},
{"data": {"name": "wc"}, "transform": [{"filter": {"field": "s", "oneOf": ["C2","C4","C6","C7","C8"]}}], "mark": {"type": "line", "stroke": "#333333", "strokeWidth": 1.2}, "encoding": {"detail": {"field": "s"}}},
{"data": {"name": "wc"}, "transform": [{"filter": {"field": "s", "oneOf": ["C0a","C0b"]}}], "mark": {"type": "line", "stroke": "#111111", "strokeWidth": 2.2}, "encoding": {"detail": {"field": "s"}}},
{"data": {"name": "bar3"}, "mark": {"type": "line", "stroke": "black", "strokeWidth": 7, "strokeJoin": "miter", "strokeCap": "butt"}, "encoding": {"order": {"field": "k"}}},
{"data": {"values": [{"t": -1.63, "i": 18.9}]}, "mark": {"type": "text", "text": "Willow Creek", "align": "left", "baseline": "alphabetic", "fontSize": 34, "fill": "#111"}},
{"data": {"values": [{"t": 6.94, "i": 19.6}]}, "mark": {"type": "text", "text": "(I1529L,I1532V,", "align": "left", "baseline": "alphabetic", "fontSize": 16.5, "fill": "#222"}},
{"data": {"values": [{"t": 7.1, "i": 16.3}]}, "mark": {"type": "text", "text": "D1539N,G1540V)", "align": "left", "baseline": "alphabetic", "fontSize": 16.5, "fill": "#222"}},
{"data": {"values": [{"t": 7.43, "i": -38.7}]}, "mark": {"type": "text", "text": "10µA", "align": "right", "baseline": "middle", "fontSize": 21, "fill": "#111"}},
{"data": {"values": [{"t": 10.4, "i": -50.7}]}, "mark": {"type": "text", "text": "5ms", "align": "center", "baseline": "middle", "fontSize": 21, "fill": "#111"}}
]
},
{
"encoding": {
"x": {"field": "t", "type": "quantitative", "scale": {"domain": [0, 20], "range": [793, 870], "nice": false, "zero": false}},
"y": {"field": "v", "type": "quantitative", "scale": {"domain": [-150, 30], "range": [443, 361], "nice": false, "zero": false}}
},
"layer": [
{"data": {"name": "prot"}, "transform": [{"filter": {"field": "g", "equal": "o"}}], "mark": {"type": "line", "stroke": "black", "strokeWidth": 4, "strokeJoin": "miter", "strokeCap": "butt"}, "encoding": {"order": {"field": "k"}}},
{"data": {"name": "prot"}, "transform": [{"filter": {"field": "g", "oneOf": ["s1","s2","s3","s4","s5","s6"]}}], "mark": {"type": "line", "stroke": "black", "strokeWidth": 3.5, "strokeCap": "butt"}, "encoding": {"detail": {"field": "g"}, "order": {"field": "k"}}},
{"data": {"values": [{"t": 10, "v": 54}]}, "mark": {"type": "text", "text": "30mV", "align": "center", "baseline": "middle", "fontSize": 14, "fontWeight": "bold", "fill": "#111"}},
{"data": {"values": [{"t": -9.6, "v": -136.8}]}, "mark": {"type": "text", "text": "-150 mV", "align": "right", "baseline": "middle", "fontSize": 14, "fontWeight": "bold", "fill": "#111"}},
{"data": {"values": [{"t": 10, "v": -185}]}, "mark": {"type": "text", "text": "20ms", "align": "center", "baseline": "middle", "fontSize": 16, "fill": "#111"}}
]
}
]
}
